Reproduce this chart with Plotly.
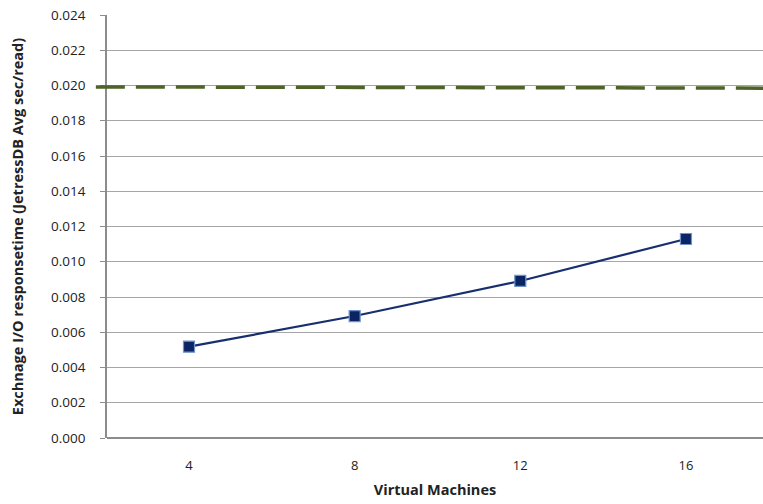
import plotly.graph_objects as go

vms = [4, 8, 12, 16]
resp = [0.00518, 0.00692, 0.00891, 0.01129]
threshold = [0.01992, 0.01985]
yticks = [i * 0.002 for i in range(13)]

fig = go.Figure()
fig.add_trace(go.Scatter(
    x=vms, y=resp, mode="lines+markers",
    line=dict(color="#172F6E", width=2.2),
    marker=dict(symbol="square", size=11, color="#0A2464",
                line=dict(color="#6F93C8", width=1.2)),
    showlegend=False, cliponaxis=False))

fig.add_shape(type="line", xref="paper", yref="y",
              x0=-0.017, x1=1.0, y0=threshold[0], y1=threshold[1],
              line=dict(color="#4F6228", width=3.5, dash="29px,11px"))

font = "Open Sans"
fig.update_layout(
    width=763, height=504,
    margin=dict(l=107, r=0, t=15, b=66),
    paper_bgcolor="white", plot_bgcolor="white",
    font=dict(family=font, size=13, color="#222222"),
    xaxis=dict(range=[2.02, 17.86], tickvals=vms, ticktext=[str(v) for v in vms],
               showgrid=False, zeroline=False, showline=False,
               ticks="", ticklabelstandoff=18,
               tickfont=dict(size=13, color="#222222"),
               title=dict(text="<b>Virtual Machines</b>", standoff=11,
                          font=dict(size=14.5, color="#222222"))),
    yaxis=dict(range=[0, 0.024], tickvals=yticks,
               ticktext=[f"{v:.3f}" for v in yticks],
               showgrid=True, gridcolor="#A6A6A6", gridwidth=1.3,
               zeroline=True, zerolinecolor="#8C8C8C", zerolinewidth=2,
               showline=True, linecolor="#8C8C8C", linewidth=1.5,
               ticks="outside", ticklen=5, tickcolor="#8C8C8C",
               ticklabelstandoff=12,
               tickfont=dict(size=13.5, color="#222222"),
               title=dict(text="<b>Exchnage I/O responsetime (JetressDB Avg sec/read)</b>",
                          standoff=24, font=dict(size=14.5, color="#222222"))),
)

fig.write_html("out.html", config={"displayModeBar": False},
               post_script="document.body.style.margin='0';document.body.style.overflow='hidden';")
